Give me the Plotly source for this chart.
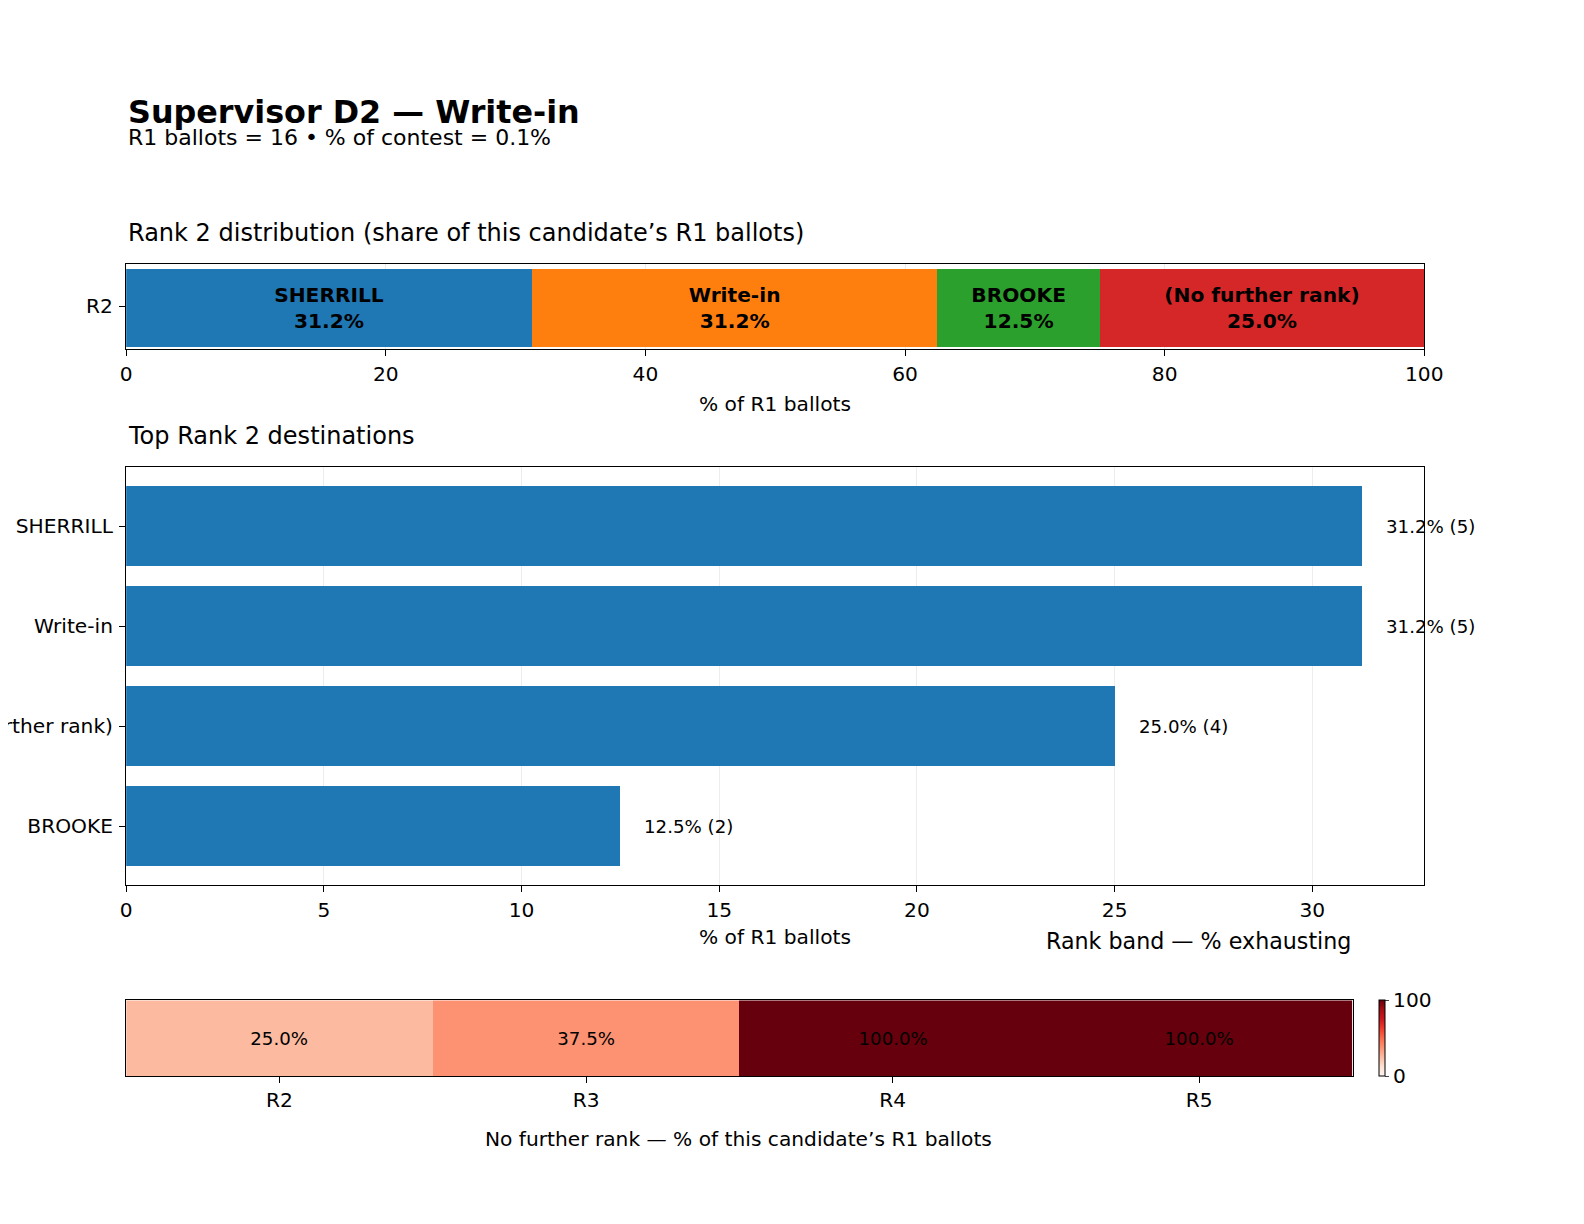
import plotly.graph_objects as go

# chart data
title = "Supervisor D2 — Write-in"
r1_ballots = 16
pct_contest = 0.1

r2_names = ["SHERRILL", "Write-in", "BROOKE", "(No further rank)"]
r2_pct = [31.25, 31.25, 12.5, 25.0]
r2_colors = ["#1f77b4", "#ff7f0e", "#2ca02c", "#d62728"]

top_names = ["SHERRILL", "Write-in", "(No further rank)", "BROOKE"]
top_pct = [31.25, 31.25, 25.0, 12.5]
top_counts = [5, 5, 4, 2]

bands = ["R2", "R3", "R4", "R5"]
exhaust_pct = [25.0, 37.5, 100.0, 100.0]

# the page shows the figure shifted by the body margin and shrunk a little,
# so reference pixel positions are mapped back into figure pixels
PAD = 8
S = 0.9907
W, H = 1568, 1208
FONT = "DejaVu Sans"


def fs(size):
    return round(size / S, 1)


def px_x(p):
    return (p / S - PAD) / W


def px_y(p):
    return 1 - (p / S - PAD) / H


fig = go.Figure()

# panel 1: stacked rank 2 distribution
for name, val, col in zip(r2_names, r2_pct, r2_colors):
    fig.add_trace(go.Bar(
        x=[val], y=[0], orientation="h", marker=dict(color=col, line=dict(width=0)),
        width=0.94, offset=-0.49,
        text=["<b>%s<br>%.1f%%</b>" % (name, val)], textposition="inside",
        insidetextanchor="middle", textangle=0,
        textfont=dict(family=FONT, size=fs(20), color="black"),
        xaxis="x", yaxis="y", showlegend=False, hoverinfo="skip"))

# panel 2: top destinations
fig.add_trace(go.Bar(
    x=top_pct, y=list(range(len(top_names))), orientation="h",
    marker=dict(color="#1f77b4", line=dict(width=0)), width=0.8,
    xaxis="x2", yaxis="y2", showlegend=False, hoverinfo="skip"))

for i, (v, c) in enumerate(zip(top_pct, top_counts)):
    fig.add_annotation(x=v, y=i, xref="x2", yref="y2", xanchor="left", xshift=22,
                       text="%.1f%% (%d)" % (v, c), showarrow=False,
                       font=dict(family=FONT, size=fs(18), color="black"))

# panel 3: exhaustion heatmap
fig.add_trace(go.Heatmap(
    z=[exhaust_pct], x=bands, y=[0], zmin=0, zmax=100, colorscale="Reds",
    text=[["%.1f%%" % v for v in exhaust_pct]], texttemplate="%{text}",
    textfont=dict(family=FONT, size=fs(18), color="black"),
    xaxis="x3", yaxis="y3", hoverinfo="skip", xgap=0,
    colorbar=dict(x=px_x(1366), xanchor="left", thickness=6, len=76, lenmode="pixels",
                  xpad=0, ypad=0,
                  y=px_y(1028.5), yanchor="middle", outlinewidth=1, outlinecolor="black",
                  tickvals=[0, 100], ticks="outside", ticklen=4,
                  tickfont=dict(family=FONT, size=fs(20), color="black"))))

axis_common = dict(showline=True, linecolor="black", linewidth=1.3, mirror=True,
                   ticks="outside", ticklen=6, tickcolor="black", automargin=False,
                   tickfont=dict(family=FONT, size=fs(20), color="black"), zeroline=False)

fig.update_layout(
    width=W, height=H, margin=dict(l=0, r=0, t=0, b=0),
    plot_bgcolor="white", paper_bgcolor="white", barmode="stack",
    font=dict(family=FONT, color="black"),
    xaxis=dict(domain=[px_x(125), px_x(1411)], range=[0, 100], anchor="y",
               tickvals=[0, 20, 40, 60, 80, 100], showgrid=True,
               gridcolor="rgba(0,0,0,0.07)", layer="above traces", **axis_common),
    yaxis=dict(domain=[px_y(346), px_y(262)], range=[-0.52, 0.5], anchor="x",
               tickvals=[0], ticktext=["R2"], showgrid=False, ticklabelstandoff=2,
               **axis_common),
    xaxis2=dict(domain=[px_x(125), px_x(1411)], range=[0, 32.83], anchor="y2",
                tickvals=[0, 5, 10, 15, 20, 25, 30], showgrid=True,
                gridcolor="rgba(0,0,0,0.07)", layer="above traces", **axis_common),
    yaxis2=dict(domain=[px_y(877), px_y(463)], range=[3.59, -0.59], anchor="x2",
                tickvals=list(range(len(top_names))), ticktext=top_names,
                showgrid=False, ticklabelstandoff=2, **axis_common),
    xaxis3=dict(domain=[px_x(125), px_x(1340)], anchor="y3", showgrid=False,
                **axis_common),
    yaxis3=dict(domain=[px_y(1066), px_y(991)], anchor="x3", showticklabels=False,
                showline=True, linecolor="black", linewidth=1.3, mirror=True,
                ticks="", showgrid=False, zeroline=False),
)

texts = [
    (125, 110, "<b>%s</b>" % title, 31.5, "left"),
    (125, 136, "R1 ballots = %d • %% of contest = %.1f%%" % (r1_ballots, pct_contest), 21.8, "left"),
    (125, 231, "Rank 2 distribution (share of this candidate’s R1 ballots)", 23.8, "left"),
    (768, 400, "% of R1 ballots", 20, "center"),
    (125, 432, "Top Rank 2 destinations", 23.8, "left"),
    (768, 928, "% of R1 ballots", 20, "center"),
    (1340, 932, "Rank band — % exhausting", 22, "right"),
    (732, 1128, "No further rank — % of this candidate’s R1 ballots", 20, "center"),
]
for x, y, t, s, anchor in texts:
    fig.add_annotation(x=px_x(x), y=px_y(y), xref="paper", yref="paper", xanchor=anchor,
                       yanchor="middle", text=t, showarrow=False,
                       font=dict(family=FONT, size=fs(s), color="black"))

fig.write_html("out.html")
